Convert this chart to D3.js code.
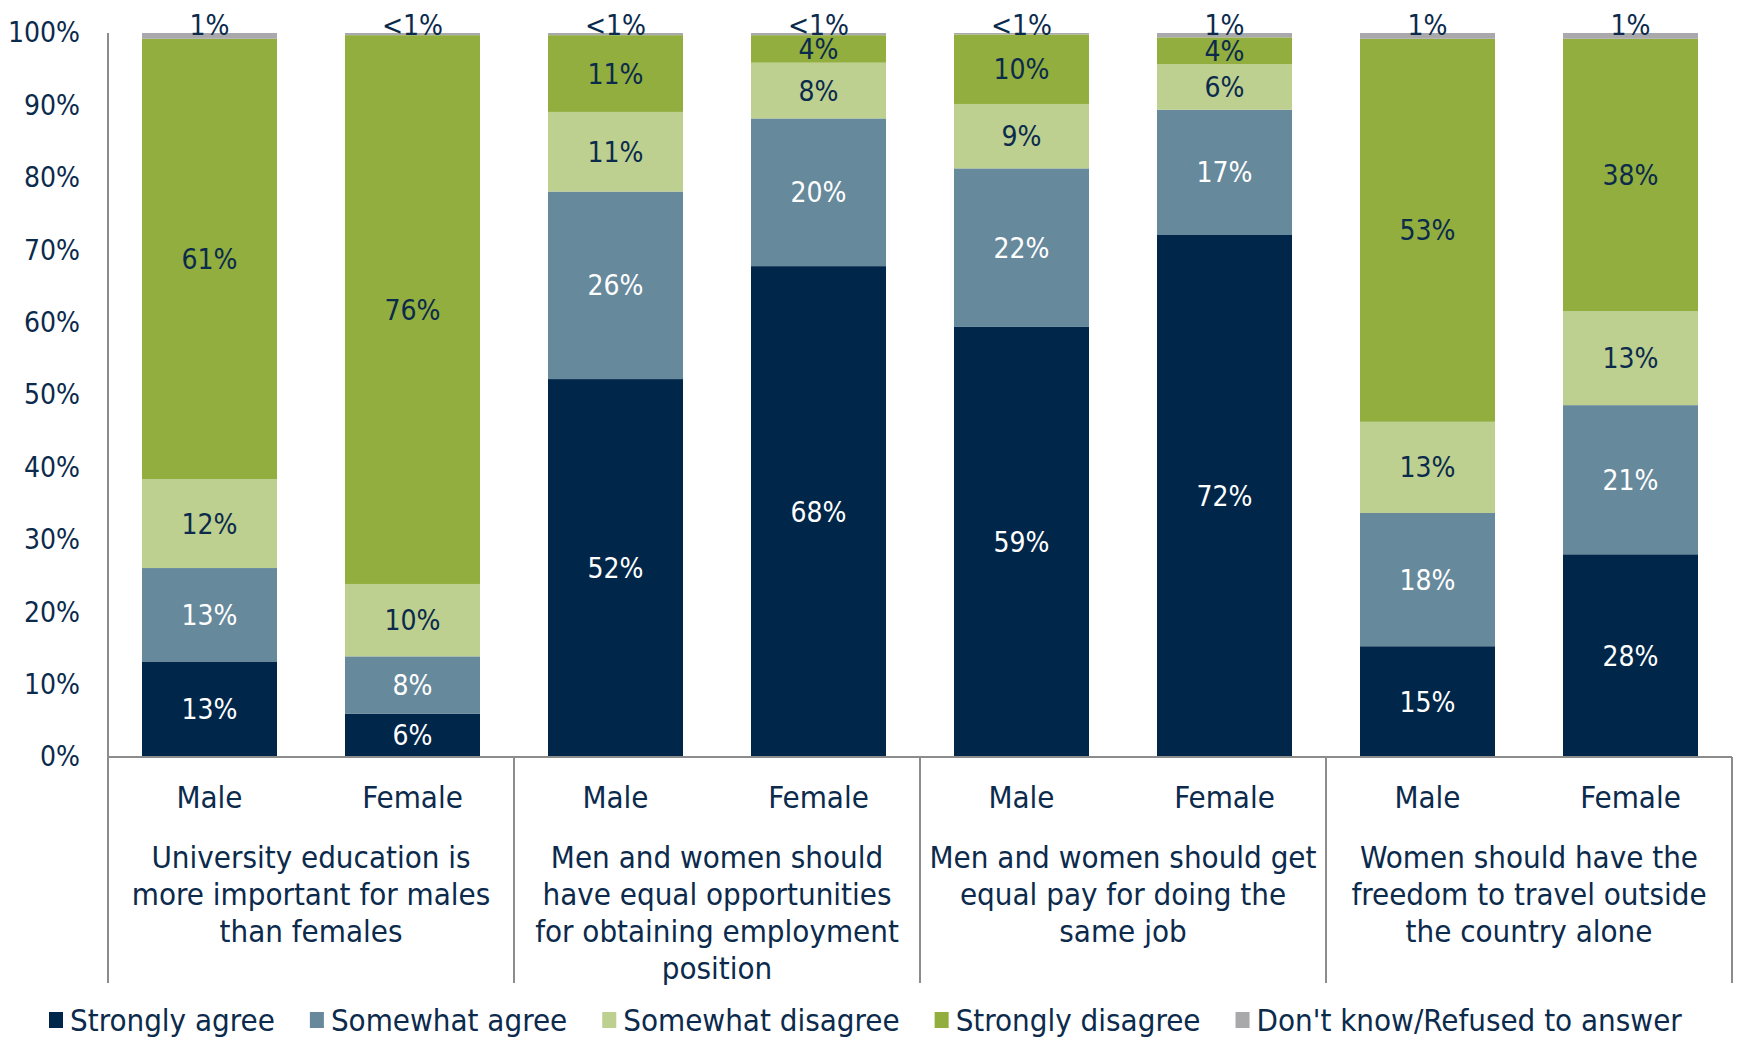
<!DOCTYPE html>
<html>
<head>
<meta charset="utf-8">
<script src="https://cdn.jsdelivr.net/npm/d3@7"></script>
<style>
  body { margin: 0; background: #fff; }
  text { font-family: "DejaVu Sans Condensed", "DejaVu Sans", sans-serif; font-stretch: condensed; }
</style>
</head>
<body>
<script>
const svgWidth = 1738
const svgHeight = 1037

// data (percent of respondents)
const statements = [
  ["University education is", "more important for males", "than females"],
  ["Men and women should", "have equal opportunities", "for obtaining employment", "position"],
  ["Men and women should get", "equal pay for doing the", "same job"],
  ["Women should have the", "freedom to travel outside", "the country alone"]
]
const sexes = ["Male", "Female"]
const seriesNames = ["Strongly agree", "Somewhat agree", "Somewhat disagree", "Strongly disagree", "Don't know/Refused to answer"]
const seriesColors = ["#00264a", "#67899c", "#bdd08f", "#91ae3e", "#a9a9ab"]

// one value per bar: Male, Female for each statement in order
const stronglyAgree    = [13.2, 6.0, 52.2, 67.8, 59.4, 72.1, 15.3, 28.0]
const somewhatAgree    = [12.9, 7.9, 25.9, 20.4, 21.9, 17.3, 18.4, 20.6]
const somewhatDisagree = [12.3, 10.0, 11.0, 7.7, 8.9, 6.3, 12.6, 13.0]
const stronglyDisagree = [60.8, 75.8, 10.6, 3.8, 9.6, 3.7, 52.9, 37.6]
const dontKnow         = [0.8, 0.3, 0.3, 0.3, 0.2, 0.6, 0.8, 0.8]

const yTicks = [0, 10, 20, 30, 40, 50, 60, 70, 80, 90, 100]

const plot = { left: 108, right: 1732, top: 33, bottom: 757, catBottom: 983 }
const navy = "#0b2a4c"
const gridGray = "#8c8c8c"

const svg = d3.select("body").append("svg")
  .attr("width", svgWidth)
  .attr("height", svgHeight)

svg.append("rect").attr("width", svgWidth).attr("height", svgHeight).attr("fill", "#fff")

const bars = []
statements.forEach((s, gi) => {
  sexes.forEach((sex, si) => {
    const i = gi * 2 + si
    bars.push({
      group: gi, sex: sex,
      values: [stronglyAgree[i], somewhatAgree[i], somewhatDisagree[i], stronglyDisagree[i], dontKnow[i]]
    })
  })
})

const x0 = d3.scaleBand()
  .domain(d3.range(statements.length))
  .range([plot.left, plot.right])
  .padding(0)

const x1 = d3.scaleBand()
  .domain(sexes)
  .range([0, x0.bandwidth()])
  .paddingInner(0.335)
  .paddingOuter(0.1675)

const y = d3.scaleLinear()
  .domain([0, 100])
  .range([plot.bottom, plot.top])

const stack = d3.stack()
  .keys(d3.range(seriesNames.length))
  .value((d, k) => d.values[k])
const stacked = stack(bars)

const chartG = svg.append("g")

const layers = chartG.selectAll("g.layer")
  .data(stacked)
  .enter()
  .append("g")
  .attr("class", "layer")
  .attr("fill", (d, k) => seriesColors[k])

layers.selectAll("rect")
  .data(d => d)
  .enter()
  .append("rect")
  .attr("x", d => x0(d.data.group) + x1(d.data.sex))
  .attr("width", x1.bandwidth())
  .attr("y", d => y(d[1]))
  .attr("height", d => y(d[0]) - y(d[1]))

// value labels
const fmt = v => v < 0.5 ? "<1%" : Math.round(v) + "%"
stacked.forEach((layer, k) => {
  const isTop = k === seriesNames.length - 1
  chartG.append("g").selectAll("text")
    .data(layer)
    .enter()
    .append("text")
    .attr("x", d => x0(d.data.group) + x1(d.data.sex) + x1.bandwidth() / 2)
    .attr("y", d => isTop ? y(d[1]) + 2 : (y(d[0]) + y(d[1])) / 2)
    .attr("dy", isTop ? 0 : "0.36em")
    .attr("text-anchor", "middle")
    .attr("font-size", 28)
    .attr("fill", k < 2 ? "#fff" : navy)
    .text(d => fmt(d.data.values[k]))
})

// axes lines
svg.append("line")
  .attr("x1", plot.left).attr("x2", plot.right)
  .attr("y1", plot.bottom).attr("y2", plot.bottom)
  .attr("stroke", gridGray).attr("stroke-width", 2)

svg.append("line")
  .attr("x1", plot.left).attr("x2", plot.left)
  .attr("y1", plot.top).attr("y2", plot.catBottom)
  .attr("stroke", gridGray).attr("stroke-width", 2)

svg.selectAll("line.sep")
  .data(d3.range(1, statements.length + 1))
  .enter()
  .append("line")
  .attr("class", "sep")
  .attr("x1", d => d < statements.length ? x0(d) : plot.right)
  .attr("x2", d => d < statements.length ? x0(d) : plot.right)
  .attr("y1", plot.bottom).attr("y2", plot.catBottom)
  .attr("stroke", gridGray).attr("stroke-width", 2)

// y axis labels
const yAxis = d3.axisLeft(y)
  .tickValues(yTicks)
  .tickFormat(d => d + "%")
  .tickSize(0)
  .tickPadding(28)

const yAxisG = svg.append("g")
  .attr("transform", `translate(${plot.left}, 0)`)
  .call(yAxis)
yAxisG.select(".domain").remove()
yAxisG.selectAll("text")
  .attr("font-size", 28)
  .attr("fill", navy)
  .style("font-family", null)

// sex labels
svg.append("g").selectAll("text")
  .data(bars)
  .enter()
  .append("text")
  .attr("x", d => x0(d.group) + x1(d.sex) + x1.bandwidth() / 2)
  .attr("y", 797)
  .attr("dy", "0.36em")
  .attr("text-anchor", "middle")
  .attr("font-size", 31)
  .attr("fill", navy)
  .text(d => d.sex)

// statement labels
const stG = svg.append("g").selectAll("g")
  .data(statements)
  .enter()
  .append("g")
stG.selectAll("text")
  .data((d, gi) => d.map((line, li) => ({ line, li, gi })))
  .enter()
  .append("text")
  .attr("x", d => x0(d.gi) + x0.bandwidth() / 2)
  .attr("y", d => 857 + d.li * 37)
  .attr("dy", "0.36em")
  .attr("text-anchor", "middle")
  .attr("font-size", 31)
  .attr("fill", navy)
  .text(d => d.line)

// legend
const legendG = svg.append("g").attr("transform", "translate(49, 1020)")
let lx = 0
seriesNames.forEach((name, k) => {
  const item = legendG.append("g").attr("transform", `translate(${lx}, 0)`)
  item.append("rect")
    .attr("x", 0).attr("y", -8)
    .attr("width", 14).attr("height", 16)
    .attr("fill", seriesColors[k])
  const t = item.append("text")
    .attr("x", 21)
    .attr("dy", "0.36em")
    .attr("font-size", 31)
    .attr("fill", navy)
    .text(name)
  lx += 21 + t.node().getComputedTextLength() + 35
})
</script>
</body>
</html>
